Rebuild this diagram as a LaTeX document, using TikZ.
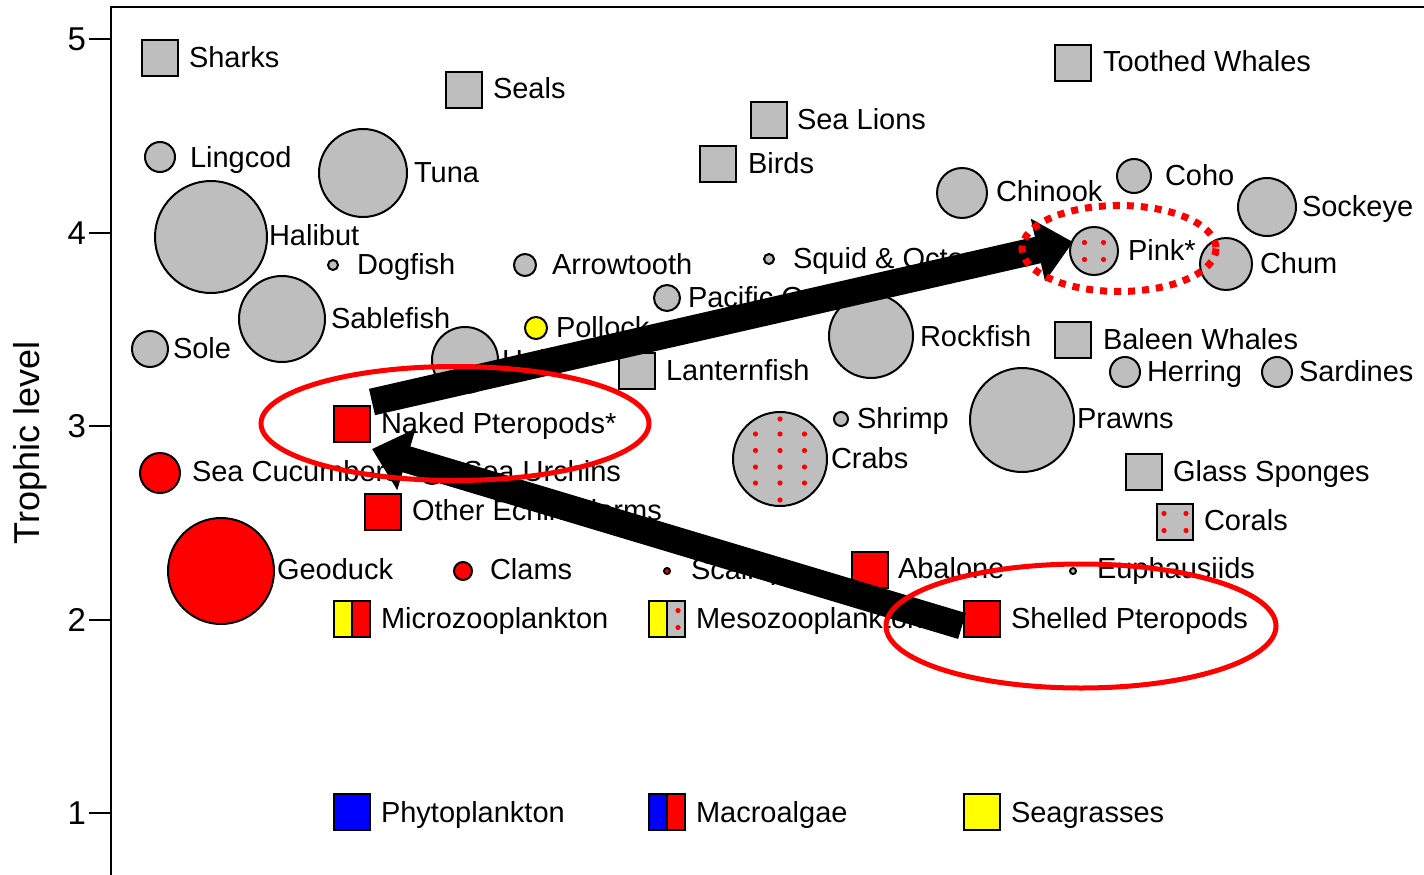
\documentclass[tikz,border=0pt]{standalone}
\usepackage{fontspec}
\setmainfont{Liberation Sans}
\usetikzlibrary{arrows.meta}
\definecolor{mgray}{RGB}{190,190,190}
\definecolor{mred}{RGB}{255,0,0}
\definecolor{myel}{RGB}{255,255,0}
\definecolor{mblue}{RGB}{0,0,255}
\begin{document}
\begin{tikzpicture}[x=1pt,y=-1pt,
  every node/.style={inner sep=0pt, outer sep=0pt},
  gsq/.style={draw, line width=2pt, fill=mgray, minimum size=36.5pt},
  rsq/.style={gsq, fill=mred},
  bsq/.style={gsq, fill=mblue},
  ysq/.style={gsq, fill=myel},
  splitsq/.style 2 args={draw, line width=2pt, minimum size=36.5pt,
    path picture={\fill[#1] (path picture bounding box.south west) rectangle (path picture bounding box.north);
      \fill[#2] (path picture bounding box.south) rectangle (path picture bounding box.north east);
      \draw[line width=2pt] (path picture bounding box.south) -- (path picture bounding box.north);}},
  gc/.style={circle, draw, line width=2pt, fill=mgray, minimum size={2*#1pt-2pt}},
  rc/.style={gc=#1, fill=mred},
  yc/.style={gc=#1, fill=myel},
  lab/.style={anchor=base west, font=\fontsize{29}{35}\selectfont},
  tick/.style={anchor=east, font=\fontsize{33}{38}\selectfont},
  bigarrow/.style={line width=27pt, -{Triangle[length=36pt, width=62pt]}},
  redring/.style={draw=mred, line width=5pt},
  reddots/.style={draw=mred, line width=7pt, dash pattern=on 7pt off 7pt},
  dot/.style={fill=mred}
]
\useasboundingbox (0,0) rectangle (1424,875);
% axes
\draw[line width=2.5pt] (111,875) -- (111,7) -- (1424,7);
\foreach \v/\yy in {5/39.3,4/232.7,3/426.1,2/619.5,1/812.9}{
  \draw[line width=2pt] (89,\yy) -- (111,\yy);
  \node[tick] (t\v) at (86,\yy) {\v};
}
\node[rotate=90, font=\fontsize{36}{40}\selectfont] (ylab) at (30,443) {Trophic level};

% squares
\node[gsq] (sharks) at (160,58) {};
\node[gsq] (seals) at (464,90) {};
\node[gsq] (sealions) at (769,120) {};
\node[gsq] (birds) at (718,164) {};
\node[gsq] (toothed) at (1073,63) {};
\node[gsq] (baleen) at (1073,340) {};
\node[gsq] (lantern) at (637,371) {};
\node[gsq] (glass) at (1144,472) {};
\node[gsq] (corals) at (1175,522) {};
\node[rsq] (naked) at (352,424) {};
\node[rsq] (otherech) at (383,512) {};
\node[rsq] (abalone) at (870,570) {};
\node[rsq] (shelled) at (982,619) {};
\node[splitsq={myel}{mred}] (micro) at (352,619) {};
\node[splitsq={myel}{mgray}] (meso) at (667,619) {};
\node[bsq] (phyto) at (352,812) {};
\node[splitsq={mblue}{mred}] (macro) at (667,812) {};
\node[ysq] (seagr) at (982,812) {};

% circles
\node[gc=16] (lingcod) at (160,157) {};
\node[gc=45] (tuna) at (363,173) {};
\node[gc=57] (halibut) at (211,237) {};
\node[gc=6] (dogfish) at (333,265) {};
\node[gc=12] (arrowtooth) at (525,265) {};
\node[gc=6] (squid) at (769,259) {};
\node[gc=14] (pacific) at (667,298) {};
\node[yc=12] (pollock) at (536,328) {};
\node[gc=44] (sablefish) at (282,319) {};
\node[gc=19] (sole) at (150,349) {};
\node[gc=34] (hake) at (465,360) {};
\node[gc=43] (rockfish) at (871,336) {};
\node[gc=26] (chinook) at (962,193) {};
\node[gc=18] (coho) at (1134,176) {};
\node[gc=30] (sockeye) at (1267,207) {};
\node[gc=25] (pink) at (1094,251) {};
\node[gc=27] (chum) at (1226,264) {};
\node[gc=16] (herring) at (1125,372) {};
\node[gc=16] (sardines) at (1277,372) {};
\node[gc=53] (prawns) at (1022,420) {};
\node[gc=8] (shrimp) at (841,419) {};
\node[gc=48] (crabs) at (780,459) {};
\node[rc=21] (seacuc) at (160,473) {};
\node[rc=14] (urchins) at (432,471) {};
\node[rc=54] (geoduck) at (221,571) {};
\node[rc=10] (clams) at (463,571) {};
\node[rc=4] (scallops) at (667,571) {};
\node[gc=4] (euph) at (1073,571) {};

% red dots
\foreach \dx/\dy in {-9.5/-8.5,9.5/-8.5,-9.5/8.5,9.5/8.5}
  \fill[dot] ([shift={(\dx,\dy)}]pink.center) circle (2.6pt);
\foreach \dx/\dy in {-11/-8.5,11/-8.5,-11/8.5,11/8.5}
  \fill[dot] ([shift={(\dx,\dy)}]corals.center) circle (2.6pt);
\foreach \dx/\dy in {11/-8.5,11/8.5}
  \fill[dot] ([shift={(\dx,\dy)}]meso.center) circle (2.6pt);
\foreach \dx in {-24.5,0,24.5}
  \foreach \dy in {-25,-8.5,8,24}
    \fill[dot] ([shift={(\dx,\dy)}]crabs.center) circle (2.6pt);
\fill[dot] ([shift={(0,-40)}]crabs.center) circle (2.6pt);
\fill[dot] ([shift={(0,41)}]crabs.center) circle (2.6pt);

% labels
\node[lab] (lsharks) at (189,67) {Sharks};
\node[lab] (lseals) at (493,98) {Seals};
\node[lab] (lsealions) at (797,129) {Sea Lions};
\node[lab] (lbirds) at (748,173) {Birds};
\node[lab] (ltoothed) at (1103,72) {Toothed Whales};
\node[lab] (llingcod) at (190,167) {Lingcod};
\node[lab] (ltuna) at (414,182) {Tuna};
\node[lab] (lhalibut) at (269,245) {Halibut};
\node[lab] (ldogfish) at (357,274) {Dogfish};
\node[lab] (larrowtooth) at (552,274) {Arrowtooth};
\node[lab] (lsquid) at (793,268) {Squid \& Octopus};
\node[lab] (lchinook) at (996,201) {Chinook};
\node[lab] (lcoho) at (1165,185) {Coho};
\node[lab] (lsockeye) at (1302,216) {Sockeye};
\node[lab] (lpink) at (1128,260) {Pink*};
\node[lab] (lchum) at (1260,273) {Chum};
\node[lab] (lpacific) at (688,307) {Pacific O};
\node[lab] (lsablefish) at (331,328) {Sablefish};
\node[lab] (lpollock) at (556,337) {Pollock};
\node[lab] (lsole) at (173,358) {Sole};
\node[lab] (lhake) at (502,370) {Hake};
\node[lab] (llantern) at (666,380) {Lanternfish};
\node[lab] (lrockfish) at (920,346) {Rockfish};
\node[lab] (lbaleen) at (1103,349) {Baleen Whales};
\node[lab] (lherring) at (1147,381) {Herring};
\node[lab] (lsardines) at (1299,381) {Sardines};
\node[lab] (lnaked) at (381,433) {Naked Pteropods*};
\node[lab] (lshrimp) at (857,428) {Shrimp};
\node[lab] (lcrabs) at (831,468) {Crabs};
\node[lab] (lprawns) at (1077,428) {Prawns};
\node[lab] (lglass) at (1173,481) {Glass Sponges};
\node[lab] (lseacuc) at (192,481) {Sea Cucumbers};
\node[lab] (lurchins) at (463,481) {Sea Urchins};
\node[lab] (lotherech) at (412,520) {Other Echinoderms};
\node[lab] (lcorals) at (1204,530) {Corals};
\node[lab] (lgeoduck) at (277,579) {Geoduck};
\node[lab] (lclams) at (490,579) {Clams};
\node[lab] (lscallops) at (691,579) {Scallops};
\node[lab] (labalone) at (898,578) {Abalone};
\node[lab] (leuph) at (1097,578) {Euphausiids};
\node[lab] (lmicro) at (381,628) {Microzooplankton};
\node[lab] (lmeso) at (696,628) {Mesozooplankton};
\node[lab] (lshelled) at (1011,628) {Shelled Pteropods};
\node[lab] (lphyto) at (381,822) {Phytoplankton};
\node[lab] (lmacro) at (696,822) {Macroalgae};
\node[lab] (lseagr) at (1011,822) {Seagrasses};

% big arrows
\coordinate (a1s) at (372,402);
\coordinate (a1e) at (1073,242);
\coordinate (a2s) at (962,626);
\coordinate (a2e) at (372,449);
\draw[bigarrow] (a1s) -- (a1e);
\draw[bigarrow] (a2s) -- (a2e);

% red rings
\draw[redring] (455,423.5) ellipse [x radius=194, y radius=57];
\draw[redring] (1081,626) ellipse [x radius=195, y radius=62];
\draw[reddots] (1119,248.5) ellipse [x radius=97, y radius=43];
\end{tikzpicture}
\end{document}
